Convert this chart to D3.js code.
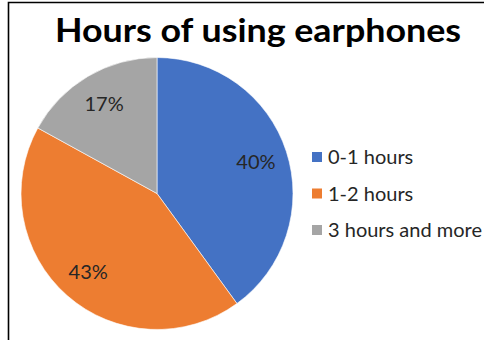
<!DOCTYPE html>
<html>
<head>
<meta charset="utf-8">
<script src="https://cdn.jsdelivr.net/npm/d3@7"></script>
<style>
  html, body { margin: 0; padding: 0; background: #fff; }
  svg { display: block; }
</style>
</head>
<body>
<svg id="chart" width="484" height="340"></svg>
<script>
// Share of respondents by daily earphone use
const categories = ["0-1 hours", "1-2 hours", "3 hours and more"];
const percents = [40, 43, 17];
const colors = ["#4472C4", "#ED7D31", "#A5A5A5"];
const titleText = "Hours of using earphones";

const svg = d3.select("#chart");
const W = 484, H = 340;
const FONT = "Lato, 'Open Sans', sans-serif";

// chart frame
svg.append("path")
  .attr("d", `M8.5,${H} V2.5 H${W}`)
  .attr("fill", "none")
  .attr("stroke", "#000")
  .attr("stroke-width", 1.6);

svg.append("text")
  .attr("x", 258).attr("y", 42)
  .attr("text-anchor", "middle")
  .attr("font-family", FONT)
  .attr("font-weight", 700)
  .attr("font-size", 33)
  .attr("textLength", 406)
  .attr("lengthAdjust", "spacingAndGlyphs")
  .attr("fill", "#000")
  .text(titleText);

const cx = 157, cy = 193.5, r = 136;
const data = categories.map((c, i) => ({ cat: c, value: percents[i], color: colors[i] }));

const pie = d3.pie().value(d => d.value).sort(null);
const arc = d3.arc().innerRadius(0).outerRadius(r);
const labelArc = d3.arc().innerRadius(104).outerRadius(104);

const g = svg.append("g").attr("transform", `translate(${cx},${cy})`);
const arcs = pie(data);

g.selectAll("path.slice")
  .data(arcs)
  .join("path")
  .attr("class", "slice")
  .attr("d", arc)
  .attr("fill", d => d.data.color)
  .attr("stroke", "#fff")
  .attr("stroke-width", 0.6);

g.selectAll("text.pct")
  .data(arcs)
  .join("text")
  .attr("class", "pct")
  .attr("transform", d => `translate(${labelArc.centroid(d)})`)
  .attr("text-anchor", "middle")
  .attr("dy", "0.36em")
  .attr("font-family", FONT)
  .attr("font-size", 20)
  .attr("fill", "#262626")
  .text(d => d.data.value + "%");

// legend
const legend = svg.append("g").attr("transform", "translate(312,157)");
const rowY = d3.scalePoint().domain(categories).range([0, 73]);
const item = legend.selectAll("g.item")
  .data(data)
  .join("g")
  .attr("class", "item")
  .attr("transform", d => `translate(0,${rowY(d.cat)})`);
item.append("rect")
  .attr("x", 0).attr("y", -5)
  .attr("width", 10).attr("height", 10)
  .attr("fill", d => d.color);
item.append("text")
  .attr("x", 16).attr("y", 0)
  .attr("dy", "0.36em")
  .attr("font-family", FONT)
  .attr("font-size", 20)
  .attr("fill", "#262626")
  .text(d => d.cat);
</script>
</body>
</html>
